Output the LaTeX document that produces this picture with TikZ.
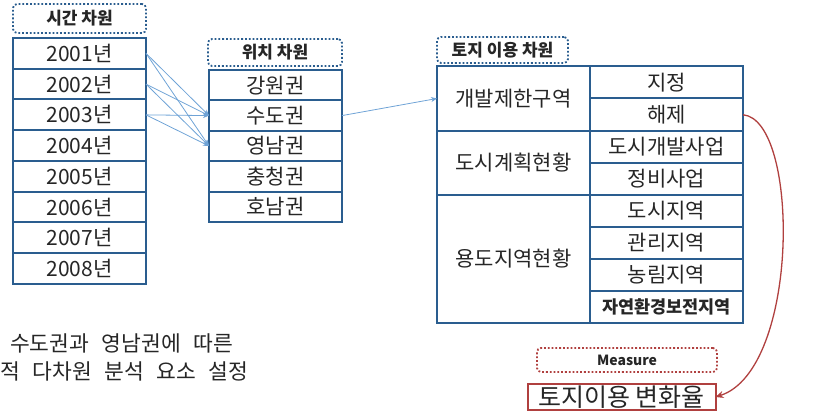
\documentclass[tikz,border=0pt]{standalone}
\usepackage{fontspec}
\setmainfont{Noto Sans CJK KR}
\newfontfamily\notefont{Noto Sans CJK KR}[WordSpace=2.6]
\usetikzlibrary{arrows.meta,positioning,calc}
\definecolor{boxblue}{HTML}{2A5D8F}
\definecolor{linkblue}{HTML}{6FA3D6}
\definecolor{measred}{HTML}{B0403F}
\definecolor{inkgray}{HTML}{262626}

\begin{document}
\begin{tikzpicture}[
  x=1pt, y=-1pt,
  node distance=0pt,
  cell/.style={draw=boxblue, line width=2pt, inner sep=0pt, outer sep=0pt,
    text=inkgray, text height=18pt, text depth=2pt, font=\fontsize{21}{24}\selectfont},
  lab/.style={draw=boxblue, dotted, line width=1.8pt, rounded corners=4pt,
    inner sep=0pt, text=inkgray, font=\bfseries\fontsize{17}{20}\selectfont},
  arr/.style={-{Stealth[length=6pt,width=5pt]}, linkblue, line width=0.8pt}
]
\useasboundingbox (0,0) rectangle (840,411);

% time dimension
\node[lab, minimum width=133pt, minimum height=29pt] (tlab) at (79.5,18.5) {시간 차원};
\node[cell, anchor=north west, minimum width=133pt, minimum height=30.75pt] (y01) at (13,38) {2001년};
\node[cell, below=of y01, minimum width=133pt, minimum height=30.75pt] (y02) {2002년};
\node[cell, below=of y02, minimum width=133pt, minimum height=30.75pt] (y03) {2003년};
\node[cell, below=of y03, minimum width=133pt, minimum height=30.75pt] (y04) {2004년};
\node[cell, below=of y04, minimum width=133pt, minimum height=30.75pt] (y05) {2005년};
\node[cell, below=of y05, minimum width=133pt, minimum height=30.75pt] (y06) {2006년};
\node[cell, below=of y06, minimum width=133pt, minimum height=30.75pt] (y07) {2007년};
\node[cell, below=of y07, minimum width=133pt, minimum height=30.75pt] (y08) {2008년};

% location dimension
\node[lab, minimum width=134pt, minimum height=27pt] (plab) at (275,52.5) {위치 차원};
\node[cell, anchor=north west, minimum width=133pt, minimum height=30.4pt] (r1) at (209,70) {강원권};
\node[cell, below=of r1, minimum width=133pt, minimum height=30.4pt] (r2) {수도권};
\node[cell, below=of r2, minimum width=133pt, minimum height=30.4pt] (r3) {영남권};
\node[cell, below=of r3, minimum width=133pt, minimum height=30.4pt] (r4) {충청권};
\node[cell, below=of r4, minimum width=133pt, minimum height=30.4pt] (r5) {호남권};

% land use dimension
\node[lab, minimum width=131pt, minimum height=26pt] (llab) at (502.5,50) {토지 이용 차원};
\node[cell, anchor=north west, minimum width=153pt, minimum height=65pt] (g1) at (437,66) {개발제한구역};
\node[cell, below=of g1, minimum width=153pt, minimum height=64pt] (g2) {도시계획현황};
\node[cell, below=of g2, minimum width=153pt, minimum height=128pt] (g3) {용도지역현황};
\node[cell, anchor=north west, minimum width=153pt, minimum height=32.5pt] (d1) at (590,66) {지정};
\node[cell, below=of d1, minimum width=153pt, minimum height=32.5pt] (d2) {해제};
\node[cell, below=of d2, minimum width=153pt, minimum height=32pt] (d3) {도시개발사업};
\node[cell, below=of d3, minimum width=153pt, minimum height=32pt] (d4) {정비사업};
\node[cell, below=of d4, minimum width=153pt, minimum height=32pt] (d5) {도시지역};
\node[cell, below=of d5, minimum width=153pt, minimum height=32pt] (d6) {관리지역};
\node[cell, below=of d6, minimum width=153pt, minimum height=32pt] (d7) {농림지역};
\node[cell, below=of d7, minimum width=153pt, minimum height=32pt, text height=16pt,
  font=\bfseries\fontsize{17.5}{20}\selectfont] (d8) {자연환경보전지역};

% measure
\node[lab, draw=measred, minimum width=180pt, minimum height=24pt,
  font=\bfseries\fontsize{14}{17}\selectfont] (mlab) at (627,360) {Measure};
\node[cell, draw=measred, minimum width=188pt, minimum height=26pt,
  text height=21pt, text depth=2pt, font=\fontsize{25}{28}\selectfont] (mbox) at (621.5,397) {토지이용 변화율};

\node[anchor=north west, align=left, inner sep=0pt, text=inkgray,
  font=\notefont\fontsize{21.5}{28}\selectfont] (note) at (0,333)
  {\hspace*{10pt}수도권과 영남권에 따른\\적 다차원 분석 요소 설정};

\draw[arr] (y01.east) -- (r2.west);
\draw[arr] (y01.east) -- (r3.west);
\draw[arr] (y02.east) -- (r2.west);
\draw[arr] (y02.east) -- (r3.west);
\draw[arr] (y03.east) -- (r2.west);
\draw[arr] (y03.east) -- (r3.west);
\draw[arr] (r2.east) -- (g1.west);
\draw[-{Stealth[length=8pt,width=7pt]}, measred, line width=1.3pt]
  (d2.east) .. controls (800,120) and (800,370) .. (mbox.east);
\end{tikzpicture}
\end{document}
